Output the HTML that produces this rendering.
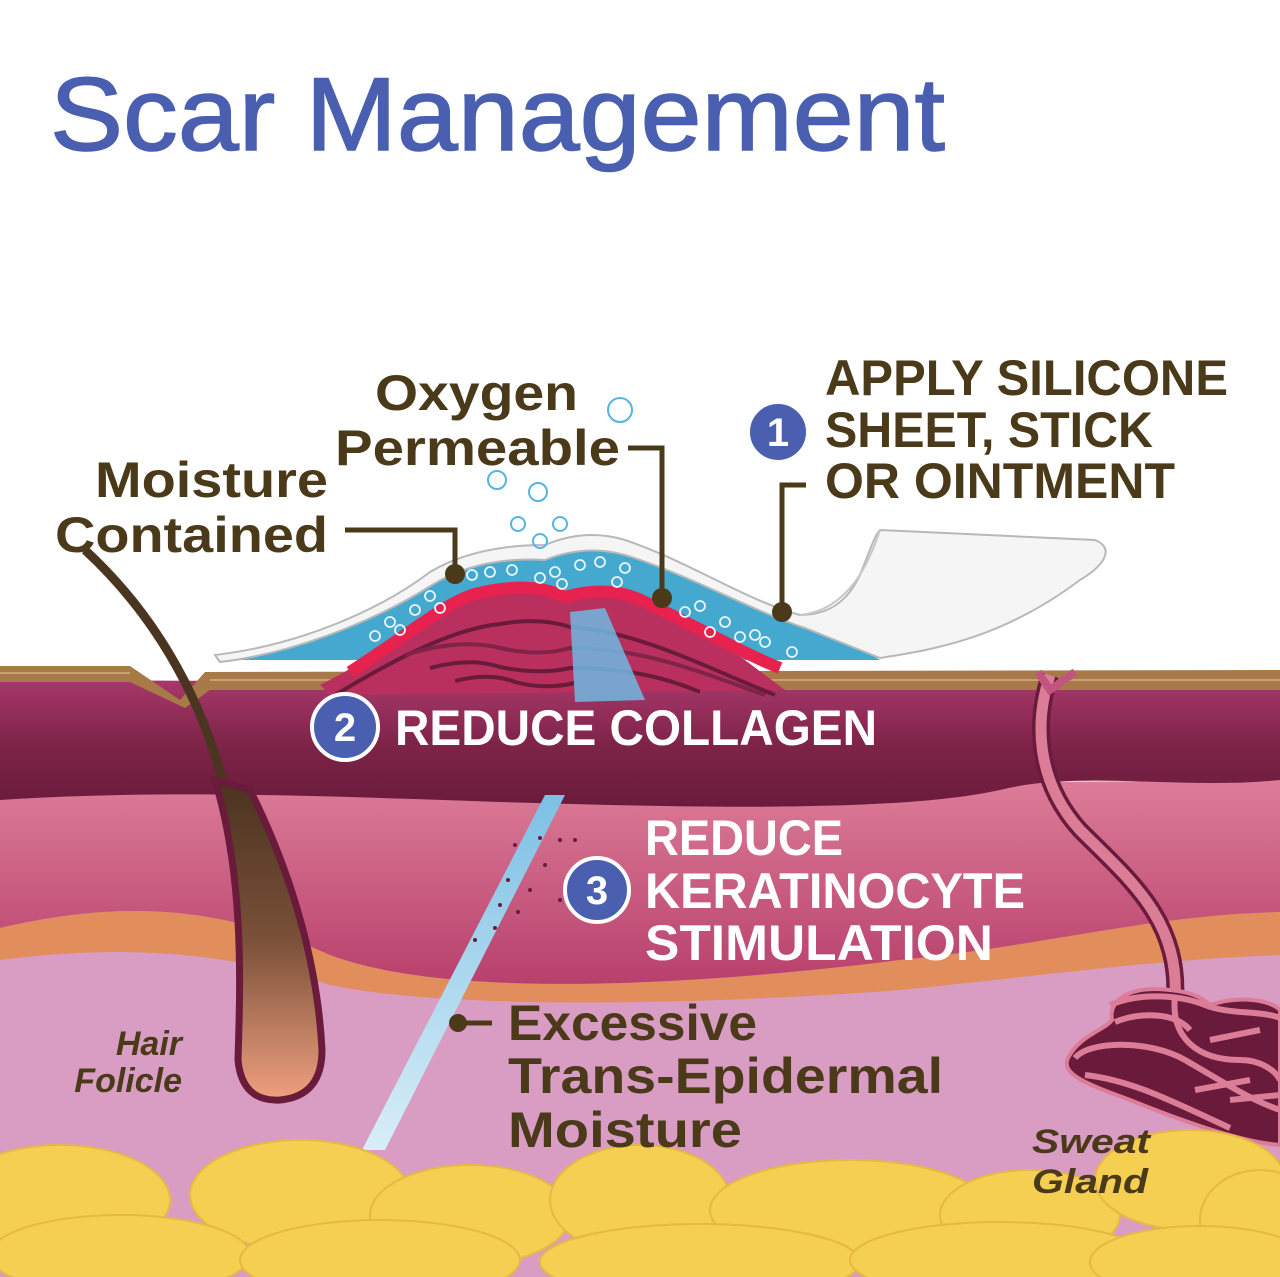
<!DOCTYPE html>
<html><head><meta charset="utf-8"><style>
html,body{margin:0;padding:0;background:#fff}
svg{display:block}
text{font-family:"Liberation Sans",sans-serif}
</style></head><body>
<svg width="1280" height="1277" viewBox="0 0 1280 1277" xmlns="http://www.w3.org/2000/svg">
<defs>
<linearGradient id="mar" x1="0" y1="0" x2="0" y2="1">
<stop offset="0" stop-color="#a8386a"/><stop offset="0.5" stop-color="#7e2449"/><stop offset="1" stop-color="#6a1b3b"/></linearGradient>
<linearGradient id="pnk" x1="0" y1="0" x2="0" y2="1">
<stop offset="0" stop-color="#dc7d98"/><stop offset="1" stop-color="#b8406c"/></linearGradient>
<linearGradient id="bulb" x1="0" y1="0" x2="0" y2="1">
<stop offset="0" stop-color="#4a3320"/><stop offset="0.5" stop-color="#7a5038"/><stop offset="1" stop-color="#f0a080"/></linearGradient>
<linearGradient id="tew" x1="0" y1="0" x2="0" y2="1">
<stop offset="0" stop-color="#7cc0e4"/><stop offset="1" stop-color="#d8eef8"/></linearGradient>
</defs>
<rect width="1280" height="1277" fill="#fff"/>
<text x="50" y="150" font-size="104" fill="#4a5fb0" stroke="#4a5fb0" stroke-width="1.5" textLength="895" lengthAdjust="spacingAndGlyphs">Scar Management</text>

<rect x="0" y="900" width="1280" height="377" fill="#d99cc2"/>
<path d="M0,928 C120,900 220,905 330,955 C450,1000 700,985 900,960 C1050,945 1150,915 1280,910 L1280,955 C1150,960 1050,975 900,990 C700,1005 450,1010 330,985 C220,950 120,945 0,960 Z" fill="#e28d5c"/>
<path d="M0,790 L1280,780 L1280,912 C1150,915 1050,945 900,960 C700,985 450,1000 330,955 C220,905 120,900 0,928 Z" fill="url(#pnk)"/>
<path d="M0,680 L1280,685 L1280,780 C1180,790 1080,770 1000,790 C900,812 700,808 500,802 C300,795 150,790 0,800 Z" fill="url(#mar)"/>
<path d="M0,666 L130,666 L180,700 L205,672 L1280,670 L1280,690 L210,690 L185,708 L130,682 L0,682 Z" fill="#a87a48"/>
<path d="M0,673 L130,673 M210,680 L1280,680" stroke="#c9a070" stroke-width="2"/>

<path d="M235,660 C310,648 385,615 432,585 Q480,556 545,560 Q585,544 625,555 C690,575 750,610 805,628 C840,640 865,650 880,660 Z" fill="#45a9cf"/>

<path d="M320,685 C390,650 430,610 470,592 Q530,578 565,594 Q610,580 645,598 C700,625 745,660 785,690 L330,695 Z" fill="#b9305e"/>
<path d="M350,672 C415,630 445,603 475,594 Q530,580 565,597 Q610,584 645,602 C700,628 740,652 780,668" stroke="#e8224e" stroke-width="12" fill="none"/>
<path d="M335,695 C410,650 460,628 500,624 Q540,617 570,627 C640,632 700,665 775,695" stroke="#6a1b3b" stroke-width="4" fill="none"/>
<path d="M405,655 Q460,638 500,648 Q540,657 570,648 C640,648 690,668 765,695" stroke="#7e2449" stroke-width="4" fill="none"/>
<path d="M430,668 Q470,657 500,667 Q540,675 570,668 C620,668 660,675 700,692" stroke="#6a1b3b" stroke-width="4" fill="none"/>
<path d="M455,681 Q490,672 515,682 Q545,690 575,683" stroke="#6a1b3b" stroke-width="4" fill="none"/>
<path d="M570,612 L605,608 L645,700 L575,702 Z" fill="#6fb8e0" opacity="0.85"/>

<path d="M545,795 L565,795 L385,1150 L362,1150 Z" fill="url(#tew)"/>
<g fill="#6a1b3b">
<circle cx="515" cy="845" r="2"/><circle cx="540" cy="838" r="2"/><circle cx="560" cy="840" r="2"/><circle cx="575" cy="840" r="2"/>
<circle cx="508" cy="880" r="2"/><circle cx="530" cy="890" r="2"/><circle cx="545" cy="865" r="2"/><circle cx="500" cy="905" r="2"/>
<circle cx="518" cy="912" r="2"/><circle cx="495" cy="928" r="2"/><circle cx="475" cy="940" r="2"/><circle cx="560" cy="900" r="2"/></g>

<path d="M215,655 C300,645 380,610 430,572 Q475,545 545,545 Q585,528 625,540 C690,562 745,600 800,615 C830,615 850,600 862,570 C870,550 875,535 880,530 L1095,540 C1115,548 1105,565 1080,580 C1000,640 930,650 880,658 C860,650 835,640 805,628 C750,610 690,575 625,555 Q585,544 545,560 Q480,556 432,585 C385,615 310,648 235,660 L220,662 Z" fill="#f5f5f5" stroke="#b8b8b8" stroke-width="2"/>
<path d="M880,530 C870,560 850,610 800,615" stroke="#c8c8c8" stroke-width="2" fill="none"/>
<g fill="none" stroke="#e8f6fc" stroke-width="1.8">
<circle cx="375" cy="636" r="5"/><circle cx="390" cy="622" r="5"/><circle cx="400" cy="630" r="5"/><circle cx="415" cy="610" r="5"/>
<circle cx="430" cy="596" r="5"/><circle cx="440" cy="608" r="5"/><circle cx="472" cy="575" r="5"/><circle cx="490" cy="572" r="5"/>
<circle cx="512" cy="570" r="5"/><circle cx="540" cy="578" r="5"/><circle cx="555" cy="572" r="5"/><circle cx="562" cy="584" r="5"/>
<circle cx="580" cy="565" r="5"/><circle cx="600" cy="562" r="5"/><circle cx="617" cy="582" r="5"/><circle cx="625" cy="568" r="5"/>
<circle cx="685" cy="612" r="5"/><circle cx="700" cy="606" r="5"/><circle cx="710" cy="632" r="5"/><circle cx="725" cy="622" r="5"/>
<circle cx="740" cy="637" r="5"/><circle cx="755" cy="635" r="5"/><circle cx="765" cy="642" r="5"/><circle cx="792" cy="652" r="5"/></g>
<g fill="none" stroke="#55b4e0" stroke-width="2">
<circle cx="620" cy="410" r="12"/><circle cx="497" cy="480" r="9"/><circle cx="538" cy="492" r="9"/><circle cx="518" cy="524" r="7"/><circle cx="560" cy="524" r="7"/><circle cx="540" cy="541" r="7"/></g>

<path d="M85,550 C150,610 200,690 225,790" stroke="#4a3520" stroke-width="9" fill="none"/>
<path d="M215,780 C245,880 240,990 238,1060 Q242,1102 280,1100 Q322,1096 322,1050 C318,970 295,880 250,790 Z" fill="url(#bulb)" stroke="#6a1b3b" stroke-width="7"/>

<path d="M1050,675 C1035,720 1035,780 1080,830 C1130,880 1180,920 1175,1000" stroke="#6a1b3b" stroke-width="18" fill="none"/>
<path d="M1050,675 C1035,720 1035,780 1080,830 C1130,880 1180,920 1175,1000" stroke="#dc7d98" stroke-width="11" fill="none"/>
<path d="M1038,672 L1050,690 L1075,672" stroke="#c2557e" stroke-width="8" fill="none"/>
<path d="M1068,1058 C1080,1035 1105,1030 1112,1020 C1108,1000 1130,985 1170,990 C1195,992 1205,1000 1210,1005 C1240,995 1270,1000 1280,1010 L1280,1145 C1240,1142 1180,1120 1130,1100 C1090,1085 1060,1075 1068,1058 Z" fill="#6a1b3b"/>
<g stroke="#dc7d98" stroke-width="6" fill="none">
<path d="M1075,1058 C1090,1040 1150,1040 1185,1060 C1220,1080 1250,1100 1280,1110"/>
<path d="M1085,1075 C1130,1080 1170,1100 1230,1128"/>
<path d="M1115,1022 C1140,1012 1175,1012 1190,1030"/>
<path d="M1110,1005 C1140,992 1180,995 1205,1005 C1230,1015 1260,1010 1280,1018"/>
<path d="M1175,995 C1170,1040 1200,1060 1240,1060 C1260,1060 1275,1070 1280,1080"/>
<path d="M1210,1040 L1260,1030 M1195,1090 L1250,1080 M1230,1100 L1280,1095"/>
</g>
<path d="M1068,1058 C1080,1035 1105,1030 1112,1020 C1108,1000 1130,985 1170,990 C1195,992 1205,1000 1210,1005 C1240,995 1270,1000 1280,1010 L1280,1145 C1240,1142 1180,1120 1130,1100 C1090,1085 1060,1075 1068,1058 Z" fill="none" stroke="#dc7d98" stroke-width="4"/>

<g fill="#f4cf52" stroke="#e6b844" stroke-width="2">
<ellipse cx="60" cy="1200" rx="110" ry="55"/><ellipse cx="300" cy="1195" rx="110" ry="55"/><ellipse cx="470" cy="1215" rx="100" ry="50"/>
<ellipse cx="640" cy="1200" rx="90" ry="55"/><ellipse cx="850" cy="1210" rx="140" ry="50"/><ellipse cx="1030" cy="1215" rx="90" ry="45"/>
<ellipse cx="1190" cy="1180" rx="95" ry="50"/><ellipse cx="1260" cy="1220" rx="60" ry="50"/>
<ellipse cx="120" cy="1255" rx="130" ry="40"/><ellipse cx="380" cy="1260" rx="140" ry="40"/><ellipse cx="700" cy="1262" rx="160" ry="38"/>
<ellipse cx="1000" cy="1260" rx="150" ry="38"/><ellipse cx="1200" cy="1262" rx="110" ry="36"/></g>

<g stroke="#4a3a1a" stroke-width="5" fill="none">
<path d="M345,530 L455,530 L455,572"/><path d="M628,448 L662,448 L662,598"/><path d="M806,485 L782,485 L782,612"/><path d="M458,1023 L492,1023"/></g>
<g fill="#4a3a1a"><circle cx="455" cy="574" r="10"/><circle cx="662" cy="598" r="10"/><circle cx="782" cy="612" r="10"/><circle cx="458" cy="1023" r="9"/></g>

<g font-weight="bold" fill="#4a3a1a" font-size="50">
<text x="825" y="395" textLength="403" lengthAdjust="spacingAndGlyphs">APPLY SILICONE</text>
<text x="825" y="447" textLength="328" lengthAdjust="spacingAndGlyphs">SHEET, STICK</text>
<text x="825" y="498" textLength="350" lengthAdjust="spacingAndGlyphs">OR OINTMENT</text>
<text x="375" y="410" textLength="203" lengthAdjust="spacingAndGlyphs">Oxygen</text>
<text x="335" y="465" textLength="285" lengthAdjust="spacingAndGlyphs">Permeable</text>
<text x="95" y="497" textLength="233" lengthAdjust="spacingAndGlyphs">Moisture</text>
<text x="55" y="552" textLength="273" lengthAdjust="spacingAndGlyphs">Contained</text>
<text x="508" y="1040" textLength="249" lengthAdjust="spacingAndGlyphs">Excessive</text>
<text x="508" y="1093" textLength="435" lengthAdjust="spacingAndGlyphs">Trans-Epidermal</text>
<text x="508" y="1147" textLength="234" lengthAdjust="spacingAndGlyphs">Moisture</text>
</g>
<g font-weight="bold" font-style="italic" fill="#4a3a1a" font-size="34">
<text x="182" y="1055" text-anchor="end">Hair</text>
<text x="182" y="1092" text-anchor="end">Folicle</text>
<text x="1032" y="1153" textLength="118" lengthAdjust="spacingAndGlyphs">Sweat</text>
<text x="1032" y="1193" textLength="116" lengthAdjust="spacingAndGlyphs">Gland</text>
</g>
<g font-weight="bold" fill="#fff" font-size="50">
<text x="395" y="745" textLength="482" lengthAdjust="spacingAndGlyphs">REDUCE COLLAGEN</text>
<text x="645" y="855" textLength="198" lengthAdjust="spacingAndGlyphs">REDUCE</text>
<text x="645" y="908" textLength="380" lengthAdjust="spacingAndGlyphs">KERATINOCYTE</text>
<text x="645" y="960" textLength="348" lengthAdjust="spacingAndGlyphs">STIMULATION</text>
</g>
<g fill="#4a5fb0" stroke="#fff" stroke-width="4">
<circle cx="778" cy="432" r="30"/><circle cx="345" cy="727" r="33"/><circle cx="597" cy="890" r="32"/></g>
<g font-weight="bold" fill="#fff" font-size="40" text-anchor="middle">
<text x="778" y="446">1</text><text x="345" y="741">2</text><text x="597" y="904">3</text></g>
</svg>
</body></html>
